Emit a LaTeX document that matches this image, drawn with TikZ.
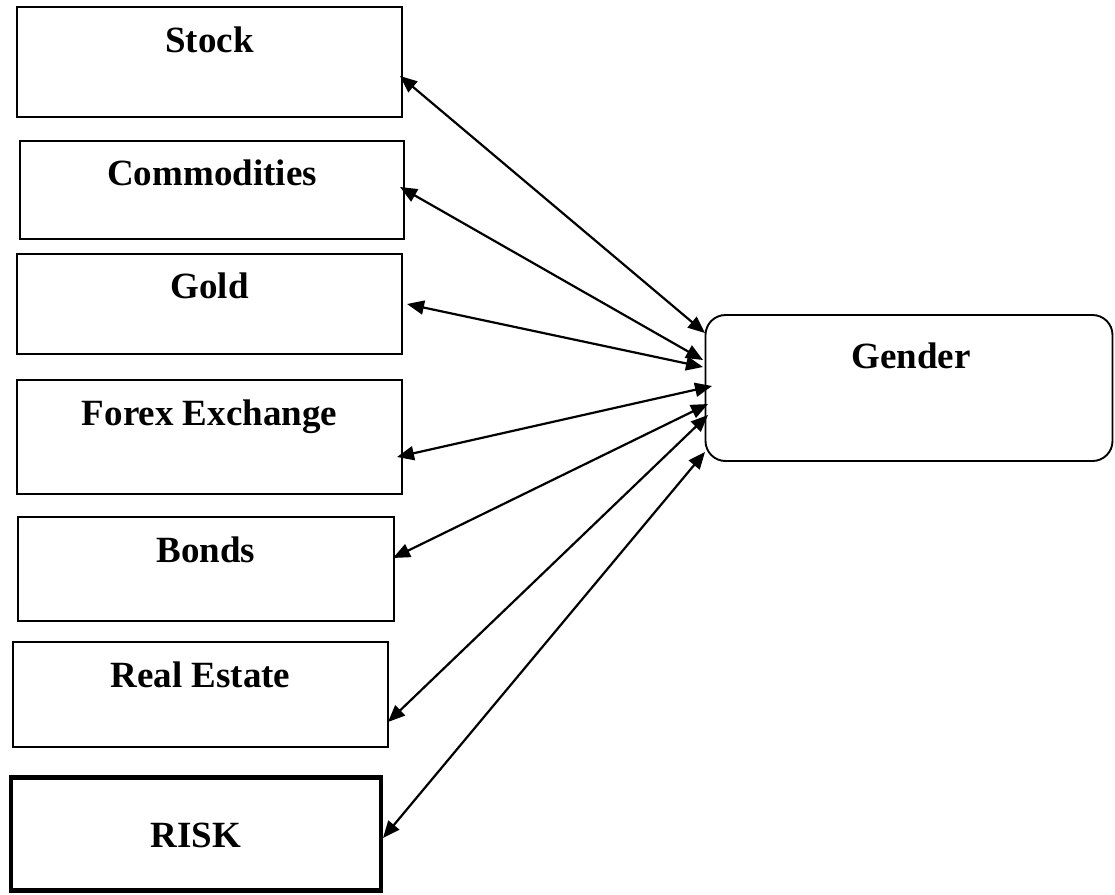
\documentclass[tikz,border=0pt]{standalone}
\usepackage{fontspec}
\setmainfont{Liberation Serif}
\usetikzlibrary{arrows.meta}
\begin{document}
\begin{tikzpicture}[x=1pt,y=-1pt,
  box/.style={draw=black,line width=1.9pt,rectangle,inner sep=0pt},
  riskbox/.style={draw=black,line width=4.2pt,rectangle,inner sep=0pt},
  lbl/.style={font=\fontsize{37}{40}\selectfont\bfseries,anchor=base,inner sep=0pt},
  link/.style={line width=2.2pt,{Triangle[length=17pt,width=14pt]}-{Triangle[length=17pt,width=14pt]}}]
\useasboundingbox (0,0) rectangle (1115,894);

% left column of boxes
\node[box,minimum width=385pt,minimum height=110pt] (stock) at (209.5,62) {};
\node[lbl] (stockt) at (209.5,52) {Stock};
\node[box,minimum width=384pt,minimum height=98pt] (comm) at (212,190) {};
\node[lbl] (commt) at (212,185) {Commodities};
\node[box,minimum width=385pt,minimum height=100pt] (gold) at (209.5,304) {};
\node[lbl] (goldt) at (209.5,298) {Gold};
\node[box,minimum width=385pt,minimum height=114pt] (forex) at (209.5,437) {};
\node[lbl] (forext) at (209.5,425) {Forex Exchange};
\node[box,minimum width=376pt,minimum height=104pt] (bonds) at (206,569) {};
\node[lbl] (bondst) at (206,562) {Bonds};
\node[box,minimum width=375pt,minimum height=105pt] (real) at (200.5,694.5) {};
\node[lbl] (realt) at (200.5,687) {Real Estate};
\node[riskbox,minimum width=370pt,minimum height=113pt] (risk) at (196,834) {};
\node[lbl] (riskt) at (196,847) {RISK};

% target box
\node[draw=black,line width=1.9pt,rectangle,rounded corners=20pt,inner sep=0pt,
      minimum width=407pt,minimum height=146pt] (gender) at (909,388) {};
\node[lbl] (gendert) at (911,368) {Gender};

% connector end points
\coordinate (a1) at (400,76);  \coordinate (b1) at (705,333);
\coordinate (a2) at (400,187); \coordinate (b2) at (703,360);
\coordinate (a3) at (407,304); \coordinate (b3) at (703,367);
\coordinate (a4) at (397,457); \coordinate (b4) at (712,386);
\coordinate (a5) at (393,558); \coordinate (b5) at (708,404);
\coordinate (a6) at (388,722); \coordinate (b6) at (708,415);
\coordinate (a7) at (383,838); \coordinate (b7) at (705,452);

\draw[link] (a1) -- (b1);
\draw[link] (a2) -- (b2);
\draw[link] (a3) -- (b3);
\draw[link] (a4) -- (b4);
\draw[link] (a5) -- (b5);
\draw[link] (a6) -- (b6);
\draw[link] (a7) -- (b7);
\end{tikzpicture}
\end{document}
